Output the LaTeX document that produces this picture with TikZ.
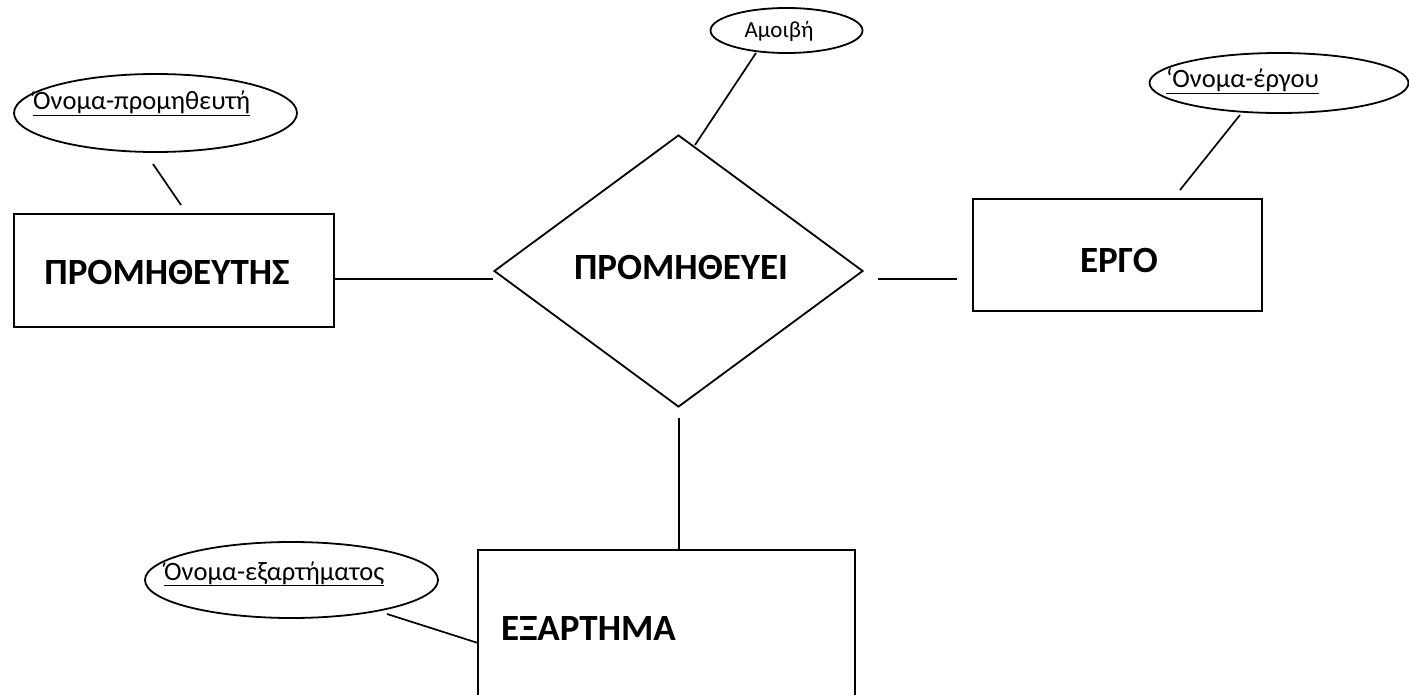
\documentclass[tikz,border=0pt]{standalone}
\usepackage{fontspec}
\setmainfont{Carlito}
\usetikzlibrary{shapes.geometric}
\tikzset{
  ln/.style={line width=1.7pt, line cap=butt},
  entity/.style={draw, ln, rectangle, inner sep=0pt},
  attr/.style={draw, line width=1.8pt, ellipse, inner sep=0pt},
  relshape/.style={draw, line width=1.8pt, diamond, inner sep=0pt},
  big/.style={font=\fontsize{37}{43}\selectfont\bfseries, inner sep=0pt},
  small/.style={font=\fontsize{26.5}{30}\selectfont, inner sep=0pt, anchor=base west},
  tiny/.style={font=\fontsize{23}{27}\selectfont, inner sep=0pt},
}
\begin{document}
\begin{tikzpicture}[x=1pt,y=-1pt]
\useasboundingbox (0,0) rectangle (1409,695);
\clip (0,0) rectangle (1409,695);
% entities
\node[entity, minimum width=320pt, minimum height=113pt] (prom) at (174,270.5) {};
\node[big] (promt) at (167,272) {ΠΡΟΜΗΘΕΥΤΗΣ};
\node[entity, minimum width=289pt, minimum height=112pt] (ergo) at (1117.5,255) {};
\node[big] (ergot) at (1119,260) {ΕΡΓΟ};
\node[entity, minimum width=377pt, minimum height=180pt] (exar) at (666.5,640) {};
\node[big, anchor=base west] (exart) at (501,640) {ΕΞΑΡΤΗΜΑ};
% relationship
\node[relshape, minimum width=369pt, minimum height=272pt] (rel) at (678.5,271) {};
\node[big] (relt) at (681,267) {ΠΡΟΜΗΘΕΥΕΙ};
% attributes
\node[attr, minimum width=283pt, minimum height=78pt] (a1) at (155.5,113) {};
\node[small] (a1t) at (33,110) {\underline{Όνομα-προμηθευτή}};
\node[attr, minimum width=152pt, minimum height=45pt] (a2) at (786.5,30.5) {};
\node[tiny] (a2t) at (779,31) {Αμοιβή};
\node[attr, minimum width=259pt, minimum height=60pt] (a3) at (1279,83) {};
\node[small] (a3t) at (1166,88) {\underline{‘Ονομα-έργου}};
\node[attr, minimum width=293pt, minimum height=76pt] (a4) at (291.5,580) {};
\node[small] (a4t) at (164,580) {\underline{Όνομα-εξαρτήματος}};
% connector end points
\coordinate (c1a) at (153,164);
\coordinate (c1b) at (181,205);
\coordinate (c2a) at (334,279);
\coordinate (c2b) at (493,279);
\coordinate (c3a) at (878,279);
\coordinate (c3b) at (957,279);
\coordinate (c4a) at (756,53);
\coordinate (c4b) at (695,145);
\coordinate (c5a) at (1240,115);
\coordinate (c5b) at (1180,190);
\coordinate (c6a) at (679,418);
\coordinate (c6b) at (679,551);
\coordinate (c7a) at (387,614);
\coordinate (c7b) at (478,643);
\draw[ln] (c1a) -- (c1b);
\draw[ln] (c2a) -- (c2b);
\draw[ln] (c3a) -- (c3b);
\draw[ln] (c4a) -- (c4b);
\draw[ln] (c5a) -- (c5b);
\draw[ln] (c6a) -- (c6b);
\draw[ln] (c7a) -- (c7b);
\end{tikzpicture}
\end{document}
